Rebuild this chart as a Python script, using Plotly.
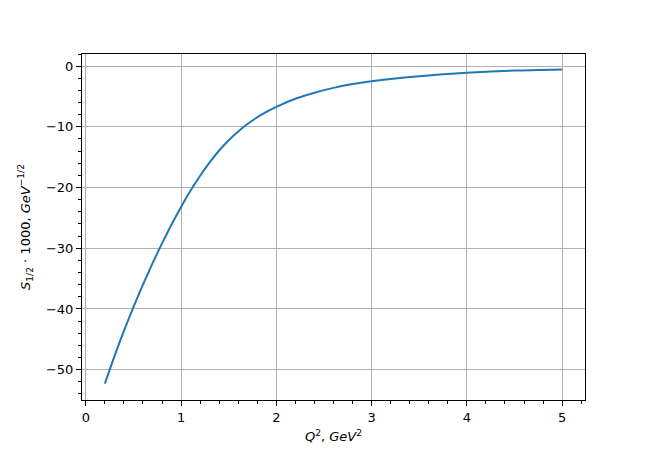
import plotly.graph_objects as go

q2 = [0.2, 0.3, 0.4, 0.5, 0.6, 0.7, 0.8, 0.9, 1.0, 1.1, 1.2, 1.3, 1.4, 1.5, 1.6, 1.7, 1.8, 1.9, 2.0,
      2.2, 2.4, 2.6, 2.8, 3.0, 3.25, 3.5, 3.75, 4.0, 4.5, 5.0]
s12 = [-52.3, -47.8, -43.6, -39.7, -36.0, -32.5, -29.2, -26.1, -23.2, -20.5, -18.05, -15.85, -13.9, -12.2,
       -10.75, -9.5, -8.42, -7.5, -6.7, -5.38, -4.37, -3.58, -2.96, -2.49, -2.03, -1.65, -1.34, -1.08, -0.72, -0.54]

x_ticks = [0, 1, 2, 3, 4, 5]
y_ticks = [0, -10, -20, -30, -40, -50]

fig = go.Figure()
fig.add_trace(go.Scatter(x=q2, y=s12, mode="lines",
                         line=dict(color="#1f77b4", width=2, shape="spline", smoothing=0.6),
                         showlegend=False))

axis_common = dict(showline=True, linecolor="black", linewidth=1, mirror=True,
                   ticks="outside", ticklen=5, tickwidth=1, tickcolor="black",
                   showgrid=True, gridcolor="#b0b0b0", gridwidth=1, zeroline=False,
                   automargin=False,
                   tickfont=dict(family="DejaVu Sans", size=13, color="black"))

fig.update_xaxes(range=[-0.04, 5.24], tickvals=x_ticks,
                 minor=dict(dtick=0.2, tick0=0, ticks="outside", ticklen=3, tickcolor="black", showgrid=False),
                 title=dict(text="<i>Q</i><sup>2</sup>, <i>GeV</i><sup>2</sup>", standoff=8,
                            font=dict(family="DejaVu Sans", size=13, color="black")),
                 **axis_common)
fig.update_yaxes(range=[-55.0, 2.0], tickvals=y_ticks,
                 minor=dict(dtick=2, tick0=0, ticks="outside", ticklen=3, tickcolor="black", showgrid=False),
                 title=dict(text="<i>S</i><sub>1/2</sub> · 1000, <i>GeV</i><sup>−1/2</sup>", standoff=12,
                            font=dict(family="DejaVu Sans", size=13, color="black")),
                 **axis_common)

fig.update_layout(width=642, height=442, margin=dict(l=74, r=65, t=46, b=50),
                  plot_bgcolor="white", paper_bgcolor="white",
                  font=dict(family="DejaVu Sans", size=13, color="black"))

fig.write_html("out.html")
